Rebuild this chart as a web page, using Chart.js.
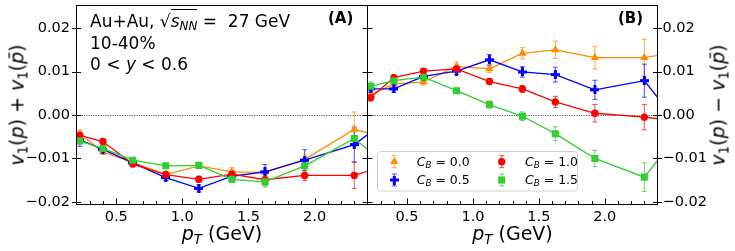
<!DOCTYPE html>
<html><head><meta charset="utf-8">
<script src="https://cdn.jsdelivr.net/npm/chart.js@4.4.0/dist/chart.umd.min.js"></script>
<style>
html,body{margin:0;padding:0;background:#fff;}
#wrap{position:relative;width:735px;height:251px;overflow:hidden;font-family:"DejaVu Sans",sans-serif;color:#000;}
canvas{position:absolute;left:0;top:0;}
.t{position:absolute;white-space:nowrap;line-height:1;}
.sub{font-size:0.7em;position:relative;top:0.28em;}
.ann{font-size:17px;left:90px;}
.leg{font-size:12.5px;}
.xt{font-size:19px;transform:translateX(-50%);}
.yt{font-size:19px;transform:translate(-50%,-50%) rotate(-90deg);}
</style></head><body>
<div id="wrap">
<canvas id="cA" width="735" height="251"></canvas>
<canvas id="cB" width="735" height="251"></canvas>
<div class="t ann" style="top:12.9px">Au+Au, √<span style="border-top:1px solid #000;padding-top:1px"><i>s</i><span class="sub"><i>NN</i></span></span> = &nbsp;27 GeV</div>
<div class="t ann" style="top:34.9px">10-40%</div>
<div class="t ann" style="top:55.6px">0 &lt; <i>y</i> &lt; 0.6</div>
<div class="t" style="font-size:15px;font-weight:bold;left:328px;top:11.3px">(A)</div>
<div class="t" style="font-size:15px;font-weight:bold;left:618px;top:11.3px">(B)</div>
<div class="t xt" style="left:222px;top:224px"><i>p</i><span class="sub"><i>T</i></span> (GeV)</div>
<div class="t xt" style="left:512.5px;top:224px"><i>p</i><span class="sub"><i>T</i></span> (GeV)</div>
<div class="t yt" style="left:17px;top:105px"><i>v</i><span class="sub">1</span>(<i>p</i>) + <i>v</i><span class="sub">1</span>(<i>p̄</i>)</div>
<div class="t yt" style="left:718px;top:105px"><i>v</i><span class="sub">1</span>(<i>p</i>) − <i>v</i><span class="sub">1</span>(<i>p̄</i>)</div>
<div class="t leg" style="left:416.7px;top:155.7px"><i>C</i><span class="sub"><i>B</i></span> = 0.0</div>
<div class="t leg" style="left:416.7px;top:174px"><i>C</i><span class="sub"><i>B</i></span> = 0.5</div>
<div class="t leg" style="left:525px;top:155.7px"><i>C</i><span class="sub"><i>B</i></span> = 1.0</div>
<div class="t leg" style="left:525px;top:174px"><i>C</i><span class="sub"><i>B</i></span> = 1.5</div>
</div>
<script>
// ---------- data ----------
const pT = [0.225, 0.4, 0.625, 0.875, 1.125, 1.375, 1.625, 1.925, 2.3, 2.75];
const seriesLabels = ['C_B = 0.0', 'C_B = 0.5', 'C_B = 1.0', 'C_B = 1.5'];

// Panel (A): v1(p) + v1(pbar)
const sumCB00 = [-0.0043, -0.0085, -0.0109, -0.0137, -0.0117, -0.0131, -0.0132, -0.0102, -0.0033, -0.0070];
const sumCB05 = [-0.0057, -0.0079, -0.0110, -0.0144, -0.0169, -0.0141, -0.0131, -0.0104, -0.0068, 0.0034];
const sumCB10 = [-0.0047, -0.0061, -0.0113, -0.0137, -0.0148, -0.0136, -0.0149, -0.0139, -0.0139, -0.0096];
const sumCB15 = [-0.0060, -0.0077, -0.0104, -0.0117, -0.0116, -0.0148, -0.0154, -0.0117, -0.0054, -0.0168];
const sumErr00 = [0.0008, 0.0006, 0.0006, 0.0006, 0.0006, 0.0010, 0.0008, 0.0010, 0.0040, 0.0040];
const sumErr05 = [0.0015, 0.0006, 0.0006, 0.0007, 0.0008, 0.0009, 0.0017, 0.0024, 0.0040, 0.0040];
const sumErr10 = [0.0008, 0.0006, 0.0006, 0.0006, 0.0007, 0.0009, 0.0012, 0.0012, 0.0030, 0.0030];
const sumErr15 = [0.0007, 0.0006, 0.0006, 0.0006, 0.0006, 0.0008, 0.0012, 0.0012, 0.0015, 0.0030];

// Panel (B): v1(p) - v1(pbar)
const diffCB00 = [0.0047, 0.0071, 0.0076, 0.0112, 0.0106, 0.0142, 0.0150, 0.0132, 0.0132, 0.0154];
const diffCB05 = [0.0060, 0.0060, 0.0089, 0.0101, 0.0127, 0.0099, 0.0093, 0.0058, 0.0079, -0.0093];
const diffCB10 = [0.0040, 0.0086, 0.0101, 0.0106, 0.0077, 0.0060, 0.0030, 0.0004, -0.0005, -0.0021];
const diffCB15 = [0.0066, 0.0079, 0.0087, 0.0056, 0.0024, -0.0003, -0.0043, -0.0100, -0.0143, 0.0029];
const diffErr00 = [0.0008, 0.0007, 0.0007, 0.0010, 0.0008, 0.0013, 0.0020, 0.0026, 0.0042, 0.0040];
const diffErr05 = [0.0008, 0.0008, 0.0008, 0.0008, 0.0012, 0.0012, 0.0017, 0.0022, 0.0038, 0.0040];
const diffErr10 = [0.0008, 0.0006, 0.0006, 0.0006, 0.0006, 0.0008, 0.0013, 0.0020, 0.0029, 0.0030];
const diffErr15 = [0.0010, 0.0006, 0.0006, 0.0006, 0.0008, 0.0010, 0.0016, 0.0019, 0.0033, 0.0030];

// ticks
const xTicks = [0.5, 1.0, 1.5, 2.0];
const xMinorTicks = [0.3, 0.4, 0.6, 0.7, 0.8, 0.9, 1.1, 1.2, 1.3, 1.4, 1.6, 1.7, 1.8, 1.9, 2.1, 2.2, 2.3];
const yTicks = [-0.02, -0.01, 0.00, 0.01, 0.02];
const xRange = [0.2, 2.4];
const yRange = [-0.0206, 0.0252];

// ---------- styles ----------
const seriesColors = ['#ff8c00', '#0000ff', '#ff0000', '#32cd32'];
const errColors = ['rgba(255,140,0,0.75)', 'rgba(0,0,255,0.7)', 'rgba(255,0,0,0.7)', 'rgba(50,205,50,0.75)'];
function plusMarker(color, s) {
  const c = document.createElement('canvas'); c.width = s; c.height = s;
  const g = c.getContext('2d'); g.fillStyle = color; const a = s / 3;
  g.fillRect(a, 0, a, s); g.fillRect(0, a, s, a); return c;
}
const plusImg = plusMarker('#0000ff', 9);
const pointStyles = ['triangle', plusImg, 'circle', 'rect'];
const pointRadii = [4.8, 4.5, 3.7, 5];

function makeDatasets(vals, errs) {
  return vals.map((v, i) => ({
    label: seriesLabels[i],
    data: pT.map((x, j) => ({x: x, y: v[j]})),
    errors: errs[i],
    errColor: errColors[i],
    borderColor: seriesColors[i],
    backgroundColor: seriesColors[i],
    pointBackgroundColor: seriesColors[i],
    pointBorderColor: seriesColors[i],
    borderWidth: 1.3,
    pointBorderWidth: 0,
    pointStyle: pointStyles[i],
    pointRadius: pointRadii[i],
    tension: 0,
    fill: false,
    order: 3 - i
  }));
}

const fmtY = v => { const s = (Math.abs(v) < 1e-9 ? 0 : v).toFixed(2); return s.replace('-', '\u2212'); };
const tickFont = {family: 'DejaVu Sans', size: 14.5};

function drawMarker(ctx, i, x, y) {
  ctx.fillStyle = seriesColors[i];
  const r = pointRadii[i];
  if (i === 0) {
    ctx.beginPath();
    for (let k = 0; k < 3; k++) {
      const a = k * 2 * Math.PI / 3;
      const px = x + Math.sin(a) * r, py = y - Math.cos(a) * r;
      k ? ctx.lineTo(px, py) : ctx.moveTo(px, py);
    }
    ctx.closePath(); ctx.fill();
  } else if (i === 1) {
    ctx.drawImage(plusImg, x - plusImg.width / 2, y - plusImg.height / 2);
  } else if (i === 2) {
    ctx.beginPath(); ctx.arc(x, y, r, 0, 2 * Math.PI); ctx.fill();
  } else {
    const s = r * Math.SQRT1_2; ctx.fillRect(x - s, y - s, 2 * s, 2 * s);
  }
}

const framePlugin = {
  id: 'frame',
  beforeDatasetsDraw(chart) {
    const {ctx, chartArea: a, scales: {x, y}} = chart;
    ctx.save();
    ctx.beginPath(); ctx.rect(a.left, a.top, a.right - a.left, a.bottom - a.top); ctx.clip();
    const y0 = Math.round(y.getPixelForValue(0)) + 0.5;
    ctx.setLineDash([1.2, 1.2]); ctx.strokeStyle = '#333'; ctx.lineWidth = 0.8;
    ctx.beginPath(); ctx.moveTo(a.left, y0); ctx.lineTo(a.right, y0); ctx.stroke();
    ctx.setLineDash([]);
    chart.data.datasets.forEach(ds => {
      ctx.strokeStyle = ds.errColor; ctx.lineWidth = 1;
      ds.data.forEach((p, j) => {
        const px = x.getPixelForValue(p.x);
        const lo = y.getPixelForValue(p.y - ds.errors[j]);
        const hi = y.getPixelForValue(p.y + ds.errors[j]);
        ctx.beginPath();
        ctx.moveTo(px, lo); ctx.lineTo(px, hi);
        ctx.moveTo(px - 2.5, lo); ctx.lineTo(px + 2.5, lo);
        ctx.moveTo(px - 2.5, hi); ctx.lineTo(px + 2.5, hi);
        ctx.stroke();
      });
    });
    ctx.restore();
  },
  afterDatasetsDraw(chart, args, o) {
    if (!o.legend) return;
    const ctx = chart.ctx;
    ctx.save();
    ctx.fillStyle = 'rgba(255,255,255,0.85)';
    ctx.strokeStyle = '#d0d0d0'; ctx.lineWidth = 1;
    ctx.beginPath(); ctx.roundRect(377.5, 151.5, 200, 39.5, 3); ctx.fill(); ctx.stroke();
    const pos = [[394.3, 161.7], [394.3, 180], [501.7, 161.7], [501.7, 180]];
    pos.forEach((p, i) => {
      ctx.strokeStyle = errColors[i]; ctx.lineWidth = 1;
      ctx.beginPath();
      ctx.moveTo(p[0], p[1] - 6); ctx.lineTo(p[0], p[1] + 6);
      ctx.moveTo(p[0] - 2.5, p[1] - 6); ctx.lineTo(p[0] + 2.5, p[1] - 6);
      ctx.moveTo(p[0] - 2.5, p[1] + 6); ctx.lineTo(p[0] + 2.5, p[1] + 6);
      ctx.stroke();
      drawMarker(ctx, i, p[0], p[1]);
    });
    ctx.restore();
  },
  afterDraw(chart, args, o) {
    const {ctx, chartArea: a, scales: {x, y}} = chart;
    ctx.save();
    ctx.strokeStyle = '#000'; ctx.lineWidth = 1;
    ctx.strokeRect(a.left, a.top, a.right - a.left, a.bottom - a.top);
    ctx.beginPath();
    yTicks.forEach(v => {
      const py = Math.round(y.getPixelForValue(v)) + 0.5;
      if (o.side === 'A') {
        ctx.moveTo(a.left - 4.5, py); ctx.lineTo(a.left + 4.5, py);
        ctx.moveTo(a.right - 5, py); ctx.lineTo(a.right, py);
      } else {
        ctx.moveTo(a.left, py); ctx.lineTo(a.left + 5, py);
        ctx.moveTo(a.right - 4.5, py); ctx.lineTo(a.right + 4.5, py);
      }
    });
    xTicks.forEach(v => {
      const px = Math.round(x.getPixelForValue(v)) + 0.5;
      ctx.moveTo(px, a.bottom); ctx.lineTo(px, a.bottom - 6);
    });
    xMinorTicks.forEach(v => {
      const px = Math.round(x.getPixelForValue(v)) + 0.5;
      ctx.moveTo(px, a.bottom); ctx.lineTo(px, a.bottom - 3.5);
    });
    ctx.stroke();
    ctx.restore();
  }
};

function makeChart(id, vals, errs, side) {
  const isA = side === 'A';
  return new Chart(document.getElementById(id), {
    type: 'line',
    data: {datasets: makeDatasets(vals, errs)},
    options: {
      responsive: false, animation: false, devicePixelRatio: 1,
      layout: {autoPadding: false, padding: isA ? {left: 0, right: 367.5, top: 5.5, bottom: 0} : {left: 367.5, right: 0, top: 5.5, bottom: 0}},
      plugins: {legend: {display: false}, tooltip: {enabled: false}, frame: {side: side, legend: !isA}},
      scales: {
        x: {
          type: 'linear', min: xRange[0], max: xRange[1],
          grid: {display: false, drawTicks: false}, border: {display: false},
          afterBuildTicks: s => { s.ticks = xTicks.map(v => ({value: v})); },
          afterFit: s => { s.height = 46.5; s.paddingLeft = 0; s.paddingRight = 0; },
          ticks: {font: tickFont, color: '#000', padding: 4, maxRotation: 0, autoSkip: false, callback: v => v.toFixed(1)}
        },
        y: {
          type: 'linear', position: isA ? 'left' : 'right', min: yRange[0], max: yRange[1],
          grid: {display: false, drawTicks: false}, border: {display: false},
          afterBuildTicks: s => { s.ticks = yTicks.map(v => ({value: v})); },
          afterFit: s => { s.width = isA ? 76.5 : 77.5; s.paddingTop = 0; s.paddingBottom = 0; },
          ticks: {font: tickFont, color: '#000', padding: isA ? 6.5 : 5, autoSkip: false, callback: fmtY}
        }
      }
    },
    plugins: [framePlugin]
  });
}

makeChart('cA', [sumCB00, sumCB05, sumCB10, sumCB15], [sumErr00, sumErr05, sumErr10, sumErr15], 'A');
makeChart('cB', [diffCB00, diffCB05, diffCB10, diffCB15], [diffErr00, diffErr05, diffErr10, diffErr15], 'B');
</script>
</body></html>
